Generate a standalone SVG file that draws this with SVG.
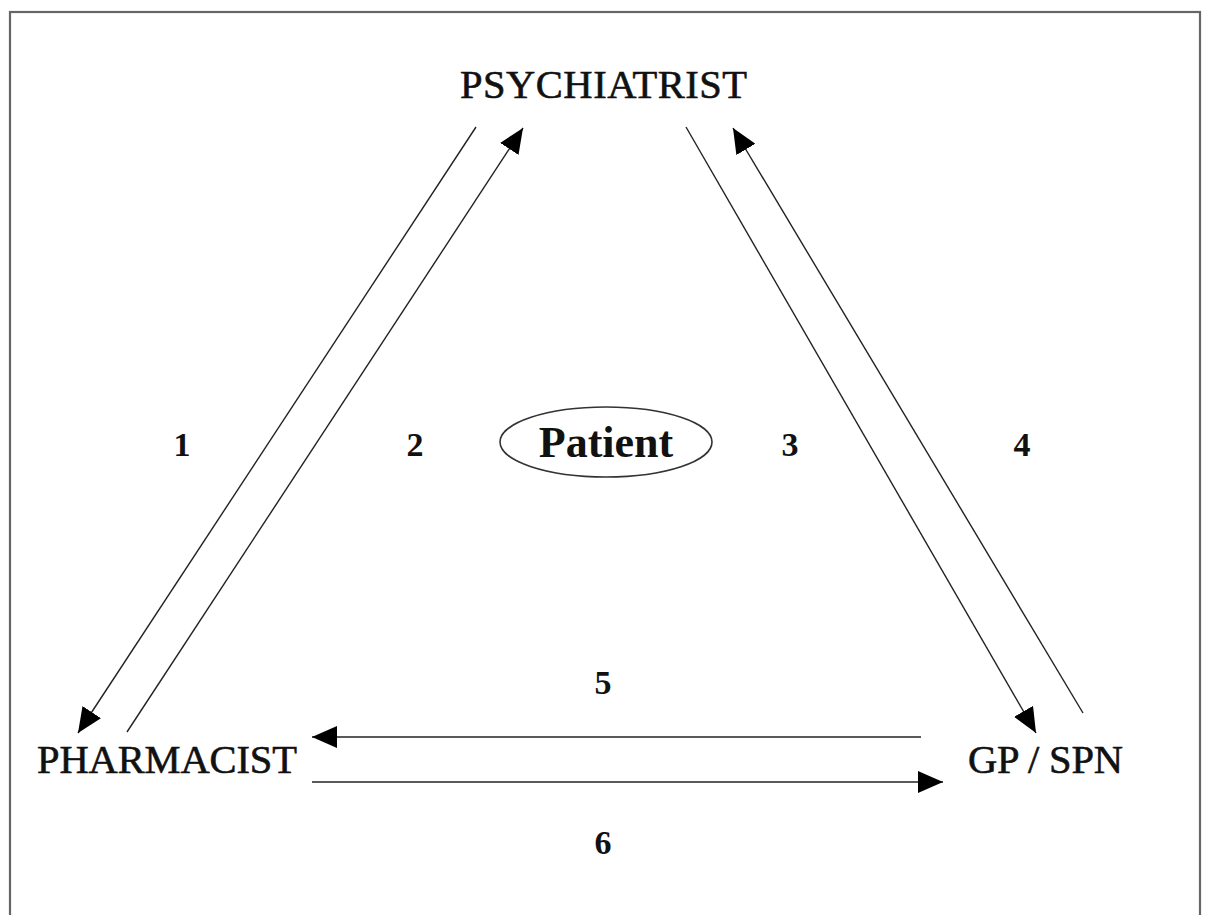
<svg xmlns="http://www.w3.org/2000/svg" width="1206" height="915" viewBox="0 0 1206 915">
<style>
.node{font-family:"Liberation Serif","Times New Roman",serif;font-size:40.5px;fill:#111;stroke:#111;stroke-width:0.6;}
.num{font-family:"Liberation Serif","Times New Roman",serif;font-size:34px;font-weight:bold;fill:#111;text-anchor:middle;}
.conn line{stroke:#222;stroke-width:1.4;marker-end:url(#ah);}
</style>
<defs>
<marker id="ah" viewBox="0 0 25 22" refX="25" refY="11" markerWidth="25" markerHeight="22" markerUnits="userSpaceOnUse" orient="auto">
<path d="M0,0 L25,11 L0,22 Z" fill="#000"/>
</marker>
</defs>
<rect x="0" y="0" width="1206" height="915" fill="#fff"/>
<rect x="10" y="12" width="1190" height="920" fill="none" stroke="#666" stroke-width="2.2"/>
<g id="psychiatrist"><text class="node" x="460" y="98" textLength="287" lengthAdjust="spacing">PSYCHIATRIST</text></g>
<g id="pharmacist"><text class="node" x="37" y="773" textLength="260" lengthAdjust="spacing">PHARMACIST</text></g>
<g id="gp-spn"><text class="node" x="968" y="773" textLength="155" lengthAdjust="spacing">GP / SPN</text></g>
<g id="patient">
<ellipse cx="606" cy="442" rx="106" ry="35" fill="none" stroke="#333" stroke-width="1.6"/>
<text x="606" y="457" text-anchor="middle" font-family="Liberation Serif,Times New Roman,serif" font-size="44" font-weight="bold" fill="#111">Patient</text>
</g>
<g id="connectors" class="conn">
<line x1="476" y1="127" x2="78" y2="733"/>
<line x1="127" y1="732" x2="523" y2="128"/>
<line x1="686" y1="127" x2="1036" y2="733"/>
<line x1="1083" y1="713" x2="733" y2="128"/>
<line x1="921" y1="737" x2="312" y2="737"/>
<line x1="312" y1="782" x2="943" y2="782"/>
</g>
<g id="labels">
<text class="num" x="182" y="456">1</text>
<text class="num" x="415" y="456">2</text>
<text class="num" x="790" y="456">3</text>
<text class="num" x="1022" y="456">4</text>
<text class="num" x="603" y="694">5</text>
<text class="num" x="603" y="854">6</text>
</g>
</svg>
